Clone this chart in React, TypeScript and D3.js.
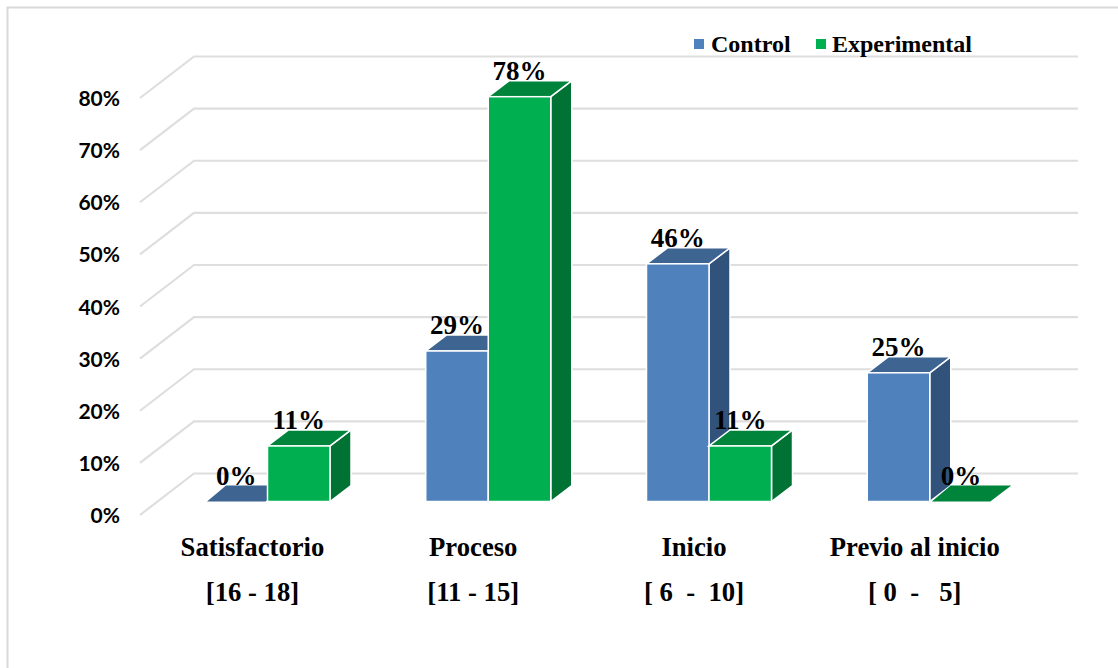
import React from "react";
import * as d3 from "d3";

const categories = ["Satisfactorio", "Proceso", "Inicio", "Previo al inicio"];
const ranges = ["[16 - 18]", "[11 - 15]", "[ 6  -  10]", "[ 0  -   5]"];
const control = [0, 29, 45.8, 24.8];
const experimental = [10.7, 78, 10.7, 0];
const yTicks = [0, 10, 20, 30, 40, 50, 60, 70, 80];
const serif = "'Liberation Serif','Times New Roman',serif";
const tickFont = "Lato,'Liberation Sans',Arial,sans-serif";

const W = 1118, H = 668;
const yFront = d3.scaleLinear().domain([0, 80]).range([515, 98]);
const yBar = d3.scaleLinear().domain([0, 78]).range([501.5, 96.7]);
const x0 = d3.scaleBand<string>().domain(categories).range([157, 1040]).paddingInner(0).paddingOuter(0);
const barW = 62.5;
const DX = 21, DY = -16;
const wallDX = 54, wallDY = -41.5;

function Bar({ x, v, front, top, side }: { x: number; v: number; front: string; top: string; side: string }) {
  const yT = yBar(v), yB = yBar(0), w = barW;
  const stroke = v === 0 ? "none" : "#fff";
  const inset = v === 0 ? 2 : 0;
  return (
    <g>
      {v > 0 && (
        <path d={`M${x + w},${yT}L${x + w + DX},${yT + DY}L${x + w + DX},${yB + DY}L${x + w},${yB}Z`} fill={side} stroke="#fff" strokeWidth={1.5} />
      )}
      <path d={`M${x + inset},${yT}L${x + DX},${yT + DY}L${x + w + DX - inset},${yT + DY}L${x + w - inset},${yT}Z`} fill={top} stroke={stroke} strokeWidth={1.5} />
      {v > 0 && <rect x={x} y={yT} width={w} height={yB - yT} fill={front} stroke="#fff" strokeWidth={1.5} />}
    </g>
  );
}

function Label({ x, v }: { x: number; v: number }) {
  return (
    <text x={x + barW / 2} y={yBar(v) + DY - 1} textAnchor="middle" fontFamily={serif} fontWeight={700} fontSize={27} fill="#000">
      {`${Math.round(v)}%`}
    </text>
  );
}

export default function App() {
  const xs = categories.map((c) => x0(c)! + 48);
  return (
    <svg width={W} height={H} viewBox={`0 0 ${W} ${H}`} style={{ position: "absolute", left: 0, top: 0, background: "#fff" }}>
      <rect x={7.5} y={7.5} width={1200} height={800} fill="#fff" stroke="#d9d9d9" strokeWidth={2} />
      {yTicks.map((t) => {
        const y = yFront(t);
        return (
          <g key={t}>
            <path d={`M140,${y}L${140 + wallDX},${y + wallDY}L1078,${y + wallDY}`} fill="none" stroke="#dedede" strokeWidth={2.2} />
            <text x={120} y={y + 8} textAnchor="end" fontFamily={tickFont} fontWeight={700} fontSize={21} fill="#000">{t}%</text>
          </g>
        );
      })}
      {categories.map((c, i) => (
        <g key={c}>
          <Bar x={xs[i]} v={control[i]} front="#4f81bd" top="#3e6491" side="#31537b" />
          <Bar x={xs[i] + barW} v={experimental[i]} front="#00b050" top="#00843c" side="#007234" />
          <text x={xs[i] + barW - 15} y={556} textAnchor="middle" fontFamily={serif} fontWeight={700} fontSize={26.7} fill="#000">{c}</text>
          <text x={xs[i] + barW - 15} y={601} textAnchor="middle" fontFamily={serif} fontWeight={700} fontSize={26.7} fill="#000" xmlSpace="preserve">{ranges[i]}</text>
        </g>
      ))}
      {categories.map((c, i) => (
        <g key={c}>
          <Label x={xs[i]} v={control[i]} />
          <Label x={xs[i] + barW} v={experimental[i]} />
        </g>
      ))}
      <rect x={694} y={39} width={10} height={10} fill="#4f81bd" />
      <text x={711} y={52} fontFamily={serif} fontWeight={700} fontSize={24} fill="#000">Control</text>
      <rect x={816} y={39} width={10} height={10} fill="#00b050" />
      <text x={832} y={52} fontFamily={serif} fontWeight={700} fontSize={24} fill="#000">Experimental</text>
    </svg>
  );
}
